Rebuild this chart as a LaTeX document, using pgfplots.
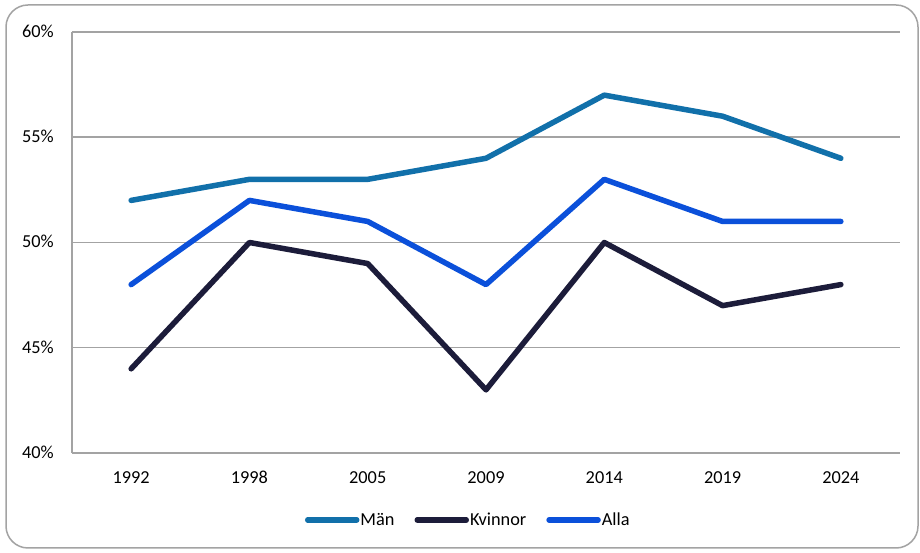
\documentclass[border=0pt]{standalone}
\usepackage{fontspec}
\setmainfont{Carlito}
\usepackage{pgfplots}
\pgfplotsset{compat=1.18}
\definecolor{man}{HTML}{1170AA}
\definecolor{kvinnor}{HTML}{1C1C3A}
\definecolor{alla}{HTML}{0B50DA}
\definecolor{gridgray}{HTML}{A3A3A3}
\begin{document}
\begin{tikzpicture}[x=1pt,y=1pt]
\path[fill=white] (0,0) rectangle (920,553);
\useasboundingbox (0,0) rectangle (920,553);
\draw[gridgray, line width=1.5pt, rounded corners=22pt] (6,5) rectangle (918,548);
\begin{axis}[
  at={(72pt,100pt)}, anchor=south west,
  scale only axis, width=828pt, height=421pt,
  xmin=-0.5, xmax=6.5, ymin=40, ymax=60,
  xtick={0,...,6},
  xticklabels={1992,1998,2005,2009,2014,2019,2024},
  ytick={40,45,50,55,60},
  yticklabels={40\%,45\%,50\%,55\%,60\%},
  major tick length=0pt,
  axis x line*=bottom, axis y line*=left,
  axis line style={gridgray, line width=1.5pt},
  x axis line style={-}, y axis line style={-},
  ymajorgrids, grid style={gridgray, line width=1.5pt},
  tick label style={font=\fontsize{18.3}{22}\selectfont, inner sep=0pt},
  xticklabel style={anchor=base, yshift=-31pt},
  yticklabel style={anchor=base east, xshift=-18pt, yshift=-5.5pt},
  legend columns=-1,
  legend style={at={(0.478,-0.159)}, anchor=center, draw=none, fill=none,
    font=\fontsize{18.3}{22}\selectfont, column sep=0pt,
    nodes={inner sep=1pt},
    /tikz/every even column/.append style={column sep=19pt}},
  legend image code/.code={\draw[#1, line cap=round] (0pt,0pt) -- (49pt,0pt);},
  every axis plot/.append style={line width=5.5pt, line cap=round, line join=round},
]
\addplot[man] coordinates {(0,52) (1,53) (2,53) (3,54) (4,57) (5,56) (6,54)};
\addlegendentry{Män}
\addplot[kvinnor] coordinates {(0,44) (1,50) (2,49) (3,43) (4,50) (5,47) (6,48)};
\addlegendentry{Kvinnor}
\addplot[alla] coordinates {(0,48) (1,52) (2,51) (3,48) (4,53) (5,51) (6,51)};
\addlegendentry{Alla}
\end{axis}
\end{tikzpicture}
\end{document}
